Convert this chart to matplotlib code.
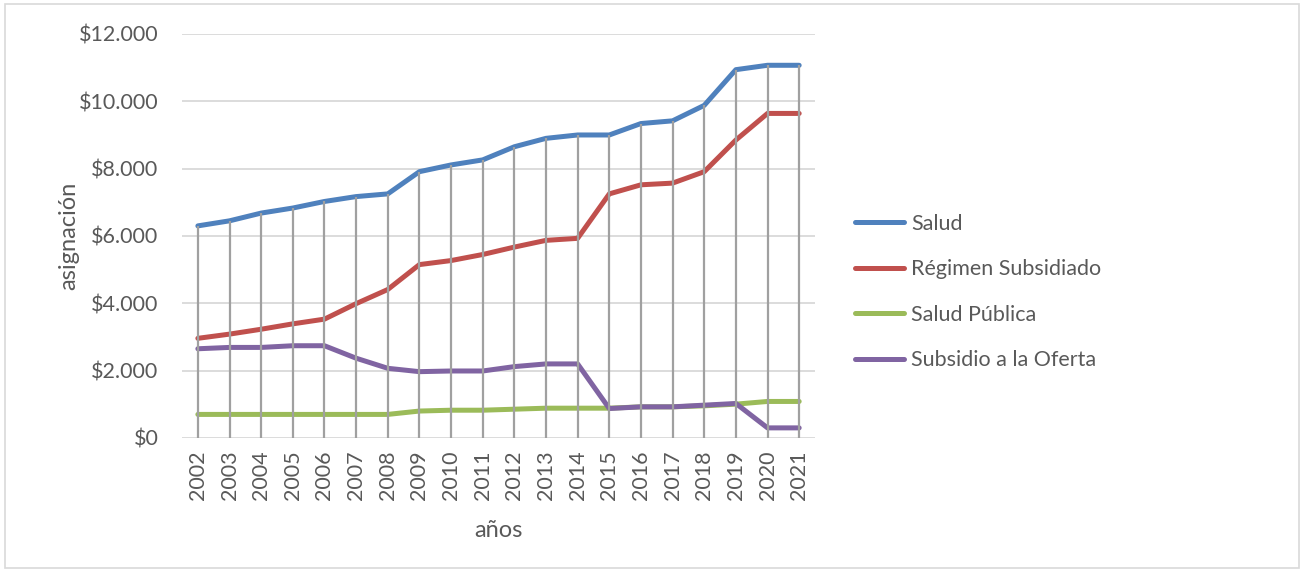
import numpy as np
import matplotlib.pyplot as plt
from matplotlib.patches import Rectangle

plt.rcParams['font.family'] = ['Lato', 'DejaVu Sans']

# datos (miles de millones)
years = [str(y) for y in range(2002, 2022)]
salud = [6300, 6450, 6680, 6830, 7025, 7170, 7250, 7910, 8110, 8260,
         8650, 8900, 9000, 9000, 9340, 9420, 9880, 10940, 11070, 11070]
regimen = [2960, 3085, 3230, 3390, 3530, 3990, 4410, 5150, 5270, 5450,
           5670, 5870, 5930, 7250, 7520, 7570, 7910, 8850, 9640, 9640]
salud_publica = [700, 700, 700, 700, 700, 700, 700, 800, 825, 825,
                 855, 885, 885, 885, 925, 925, 955, 1005, 1085, 1085]
oferta = [2650, 2690, 2690, 2740, 2740, 2370, 2070, 1970, 1990, 1990,
          2120, 2200, 2200, 875, 925, 925, 975, 1025, 300, 300]
y_ticks = [0, 2000, 4000, 6000, 8000, 10000, 12000]
y_labels = ['$0', '$2.000', '$4.000', '$6.000', '$8.000', '$10.000', '$12.000']

series = [(salud, 'Salud', '#4F81BD'),
          (regimen, 'Régimen Subsidiado', '#C0504D'),
          (salud_publica, 'Salud Pública', '#9BBB59'),
          (oferta, 'Subsidio a la Oferta', '#8064A2')]

fig = plt.figure(figsize=(13.04, 5.72), dpi=100)
fig.patches.append(Rectangle((0.004, 0.007), 0.992, 0.986, transform=fig.transFigure,
                             fill=False, edgecolor='#D9D9D9', linewidth=1.2))
ax = fig.add_axes([0.1396, 0.2343, 0.4854, 0.7063])

x = np.arange(len(years))
top = np.max(np.array([s[0] for s in series]), axis=0)

for vals, name, col in series:
    ax.plot(x, vals, color=col, linewidth=3.6, label=name, zorder=3,
            solid_capstyle='round', solid_joinstyle='round')

# lineas de caida, encima de las series como en excel
ax.vlines(x, 0, top, color='#A0A0A0', linewidth=1.6, zorder=4)

ax.set_xlim(-0.5, len(years) - 0.5)
ax.set_ylim(0, 12000)
ax.set_yticks(y_ticks)
ax.set_yticklabels(y_labels)
ax.set_xticks(x)
ax.set_xticklabels(years, rotation=90)
ax.tick_params(axis='both', length=0, labelsize=15.5, colors='#595959')
ax.tick_params(axis='y', pad=17)
ax.tick_params(axis='x', pad=9)
ax.grid(axis='y', color='#D9D9D9', linewidth=1.3, zorder=0)
ax.set_axisbelow(True)
for sp in ax.spines.values():
    sp.set_visible(False)

ax.set_xlabel('años', fontsize=17, color='#595959', labelpad=14)
ax.set_ylabel('asignación', fontsize=17, color='#595959', labelpad=0)

leg = ax.legend(loc='center left', bbox_to_anchor=(0.649, 0.4895), bbox_transform=fig.transFigure,
                frameon=False, fontsize=15.5, handlelength=2.3, handletextpad=0.3,
                labelspacing=1.18, borderaxespad=0)
for t in leg.get_texts():
    t.set_color('#595959')

fig.savefig('out.png', dpi=100)
